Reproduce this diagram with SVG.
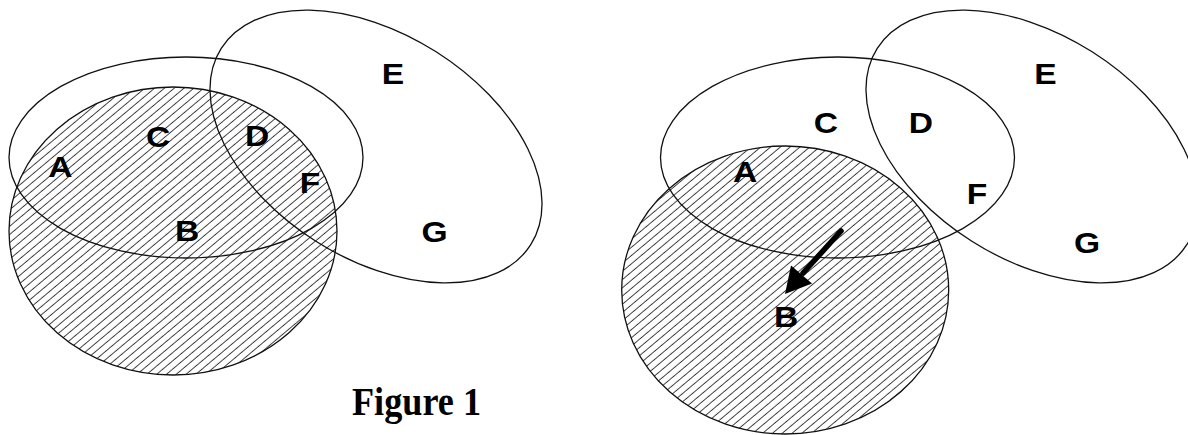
<svg xmlns="http://www.w3.org/2000/svg" width="1188" height="435" viewBox="0 0 1188 435">
  <style>
    .outline { fill: none; stroke: #111; stroke-width: 1.3; }
    .hatched { fill: url(#hatch); stroke: #111; stroke-width: 1.3; }
    .lbl { font-family: "Liberation Sans", Arial, sans-serif; font-weight: bold; font-size: 30px; fill: #000; text-anchor: middle; }
    .cap { font-family: "Liberation Serif", "Times New Roman", serif; font-weight: bold; font-size: 40px; fill: #000; }
  </style>
  <defs>
    <pattern id="hatch" patternUnits="userSpaceOnUse" width="10" height="6.3" patternTransform="rotate(-40)">
      <line x1="0" y1="3.1" x2="10" y2="3.1" stroke="#222" stroke-width="0.9"/>
    </pattern>
  </defs>
  <rect width="1188" height="435" fill="#fff"/>

  <!-- Left figure -->
  <g id="left-circle-B"><ellipse class="hatched" cx="173" cy="231" rx="164" ry="144"/></g>
  <g id="left-ellipse-ACB"><ellipse class="outline" cx="186" cy="157.5" rx="177" ry="100.5"/></g>
  <g id="left-ellipse-EG"><ellipse class="outline" cx="0" cy="0" rx="183.3" ry="112.2" transform="translate(376 146.5) rotate(32.4)"/></g>

  <!-- Right figure -->
  <g id="right-circle-B"><ellipse class="hatched" cx="785.2" cy="290" rx="163.5" ry="144"/></g>
  <g id="right-ellipse-ACB"><ellipse class="outline" cx="837.5" cy="157.5" rx="177" ry="100.5"/></g>
  <g id="right-ellipse-EG"><ellipse class="outline" cx="0" cy="0" rx="183.3" ry="112.2" transform="translate(1032 146.5) rotate(32.4)"/></g>

  <g id="connectors">
    <line x1="841" y1="231" x2="803" y2="273" stroke="#000" stroke-width="5.5" stroke-linecap="round"/>
    <polygon points="785,294 791,265.5 812,283.5" fill="#000"/>
  </g>

  <g id="labels" transform="scale(1.12 1)">
    <text class="lbl" x="350.9" y="84">E</text>
    <text class="lbl" x="141.1" y="147">C</text>
    <text class="lbl" x="229.5" y="146">D</text>
    <text class="lbl" x="54" y="177">A</text>
    <text class="lbl" x="276.8" y="193">F</text>
    <text class="lbl" x="167" y="241">B</text>
    <text class="lbl" x="388" y="242">G</text>

    <text class="lbl" x="933.5" y="84">E</text>
    <text class="lbl" x="737.5" y="133">C</text>
    <text class="lbl" x="822.3" y="133">D</text>
    <text class="lbl" x="665.2" y="182">A</text>
    <text class="lbl" x="872.3" y="204">F</text>
    <text class="lbl" x="970.5" y="253">G</text>
    <text class="lbl" x="701.8" y="327">B</text>
  </g>

  <g id="caption">
    <text class="cap" x="352" y="415" textLength="129" lengthAdjust="spacingAndGlyphs">Figure 1</text>
  </g>
</svg>
